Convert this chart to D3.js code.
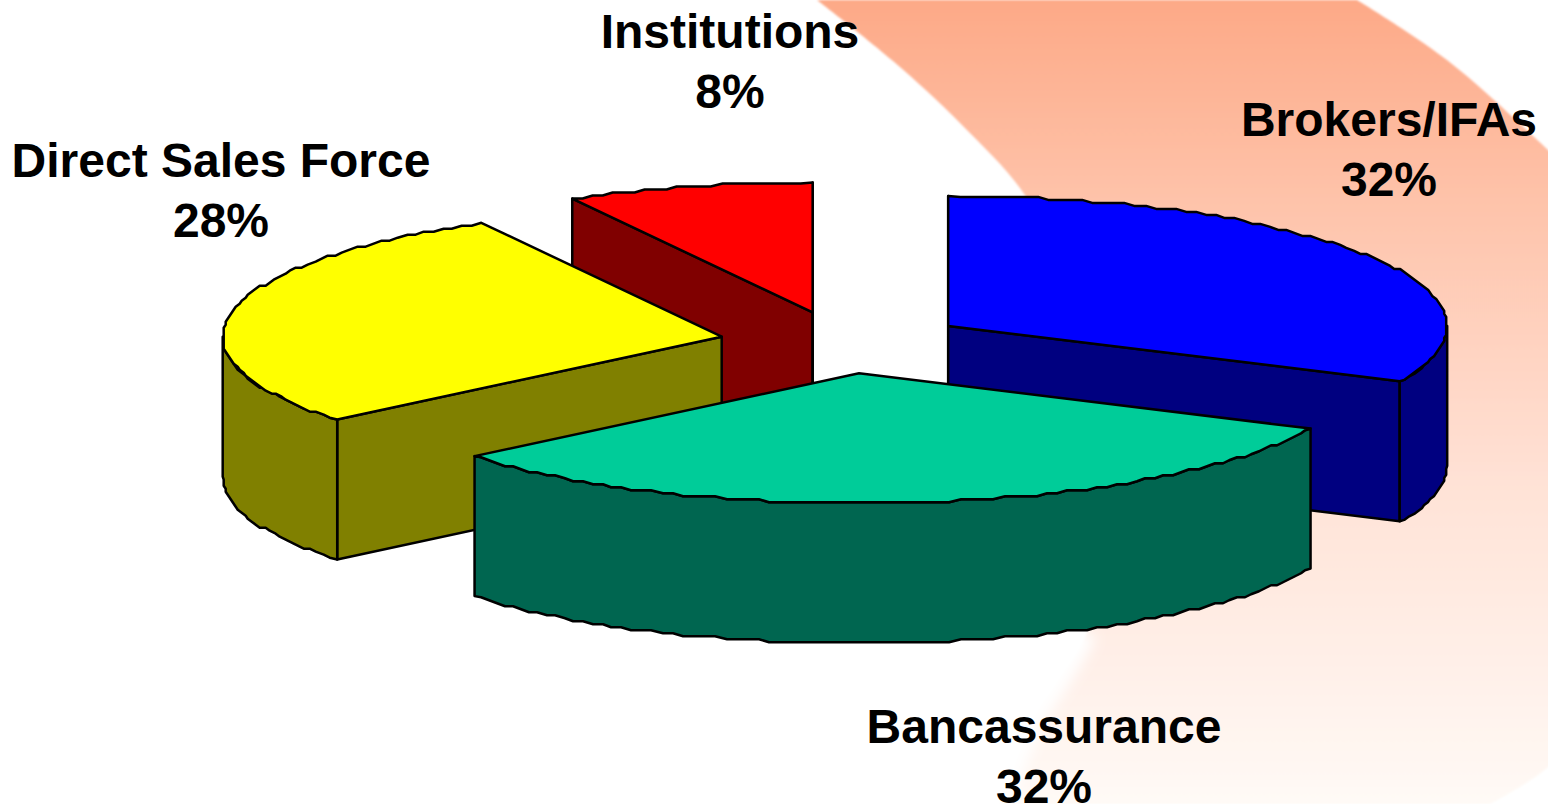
<!DOCTYPE html>
<html><head><meta charset="utf-8">
<script src="https://cdn.jsdelivr.net/npm/d3@7/dist/d3.min.js"></script>
<style>html,body{margin:0;padding:0;background:#fff;overflow:hidden}svg{display:block}
text{font-family:"Liberation Sans",Arial,sans-serif;font-weight:700;fill:#000;text-anchor:middle}</style>
</head><body><svg id="c" width="1548" height="804"></svg>
<script>
const categories = ["Brokers/IFAs","Bancassurance","Direct Sales Force","Institutions"];
const shares = [32,32,28,8];
const topColors = ["#0000FF","#00CC99","#FFFF00","#FF0000"];
const sideColors = ["#000080","#006650","#808000","#800000"];
const drawOrder = [3,0,2,1];

const RX=499, RY=130, DEPTH=140, EXPLODE_X=124, EXPLODE_Y=31, CX=843.5, CY=342.5, FONT=48, LINE=60;
const labelAnchors=[[1389,136],[1044,743],[221,177],[730,48]];
const swooshLeft=[[817,0],[893,61],[960,123],[1027,198],[1075,300],[1105,420],[1108,530],[1087,633],[1059,680],[1035,717],[1000,804]];
const swooshRight=[[1490,804],[1548,767],[1600,700],[1600,200],[1548,150],[1447,60],[1357,0]];

const svg=d3.select("#c");
const defs=svg.append("defs");
const grad=defs.append("linearGradient").attr("id","bg").attr("x1",0).attr("y1",0).attr("x2",0).attr("y2",1)
  .attr("gradientUnits","objectBoundingBox");
[[0,"#FDA987"],[0.25,"#FEC3AA"],[0.6,"#FFE2D6"],[1,"#FFFAF6"]].forEach(s=>grad.append("stop").attr("offset",s[0]).attr("stop-color",s[1]));
defs.append("filter").attr("id","soft").append("feGaussianBlur").attr("stdDeviation",1.2);
defs.append("filter").attr("id","softer").attr("x","-50%").attr("width","200%").append("feGaussianBlur").attr("stdDeviation",7);

const lineCurve=d3.line().curve(d3.curveCatmullRom);
svg.append("path")
  .attr("d",lineCurve(swooshLeft)+"L"+lineCurve(swooshRight).slice(1)+"Z")
  .attr("fill","url(#bg)").attr("filter","url(#soft)");
// the lower edge of the swoosh fades into the page
svg.append("path").attr("d",lineCurve(swooshLeft.slice(7)))
  .attr("fill","none").attr("stroke","#fff").attr("stroke-width",22).attr("filter","url(#softer)");

const unitX=d3.scaleLinear().domain([-1,1]).range([-RX,RX]);
const unitY=d3.scaleLinear().domain([-1,1]).range([-RY,RY]);
const pt=a=>[unitX(Math.sin(a)),unitY(-Math.cos(a))];

function arcPts(a0,a1,dy){
  const n=Math.max(2,Math.round(Math.abs(a1-a0)/(1.3*Math.PI/180)));
  const out=[];
  let last=null;
  for(let i=0;i<=n;i++){
    const a=a0+(a1-a0)*i/n, p=pt(a);
    let q=[p[0],p[1]];
    if(i>0&&i<n){
      // faceted, wobbling rim as in the source rendering
      q=[Math.round(p[0]/2)*2,Math.round(p[1]/3)*3];
    }
    q=[q[0],q[1]+dy];
    if(!last||last[0]!==q[0]||last[1]!==q[1]) out.push(q);
    last=q;
  }
  return out;
}
const pathOf=d3.line();
const arcs=d3.pie().sort(null).value(d=>d)(shares);

drawOrder.forEach(i=>{
  const s=arcs[i], mid=(s.startAngle+s.endAngle)/2;
  const g=svg.append("g").attr("transform",`translate(${CX+EXPLODE_X*Math.sin(mid)},${CY-EXPLODE_Y*Math.cos(mid)})`);
  const style=(sel,fill)=>sel.attr("fill",fill).attr("stroke","#000").attr("stroke-width",2.5).attr("stroke-linejoin","round");
  const wall=a=>{const p=pt(a);return pathOf([[0,0],p,[p[0],p[1]+DEPTH],[0,DEPTH]])+"Z";};
  if(-Math.sin(s.startAngle)>=-1e-6) style(g.append("path").attr("d",wall(s.startAngle)),sideColors[i]);
  if(Math.sin(s.endAngle)>=-1e-6) style(g.append("path").attr("d",wall(s.endAngle)),sideColors[i]);
  const a0=Math.max(s.startAngle,Math.PI/2), a1=Math.min(s.endAngle,3*Math.PI/2);
  if(a1>a0){
    const pts=arcPts(a0,a1,0).concat(arcPts(a1,a0,DEPTH));
    style(g.append("path").attr("d",pathOf(pts)+"Z"),sideColors[i]);
  }
  style(g.append("path").attr("d",pathOf([[0,0]].concat(arcPts(s.startAngle,s.endAngle,0)))+"Z"),topColors[i]);
});

categories.forEach((c,i)=>{
  const t=svg.append("text").attr("font-size",FONT);
  t.append("tspan").attr("x",labelAnchors[i][0]).attr("y",labelAnchors[i][1]).text(c);
  t.append("tspan").attr("x",labelAnchors[i][0]).attr("y",labelAnchors[i][1]+LINE).text(shares[i]+"%");
});
</script></body></html>
